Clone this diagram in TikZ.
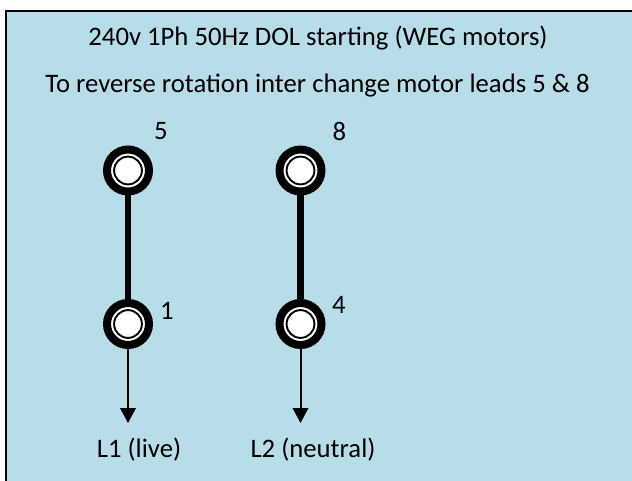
\documentclass[tikz,border=0pt]{standalone}
\usepackage{fontspec}
\setmainfont{Carlito}
\usetikzlibrary{arrows.meta, positioning}
\definecolor{panelblue}{HTML}{B7DDE8}
\begin{document}
\begin{tikzpicture}[
  x=1pt, y=-1pt,
  terminal/.style={
    circle,
    draw=black,
    line width=8pt,
    fill=white,
    minimum size=42pt,
    inner sep=0pt,
    path picture={\draw[black, line width=1.9pt] (path picture bounding box.center) circle (13.9pt);}
  },
  link/.style={line width=6.5pt},
  arrow/.style={-{Stealth[length=15pt,width=15.5pt,inset=0pt]}, line width=2pt},
  every node/.append style={font=\fontsize{26.7pt}{32pt}\selectfont}
]

% Panel
\useasboundingbox (0,0) rectangle (632,481);
\node[draw=black, line width=1.8pt, fill=panelblue, minimum width=640pt, minimum height=480pt, inner sep=0pt, anchor=north west] (panel) at (5,10) {};

% Titles
\node (title) at (318,38.5) {240v 1Ph 50Hz DOL starting (WEG motors)};
\node (note) at (317.5,85.5) {To reverse rotation inter change motor leads 5 \& 8};

% Terminals
\node[terminal] (t5) at (128,170.5) {};
\node[terminal] (t1) at (128,324) {};
\node[terminal] (t8) at (300.5,170.5) {};
\node[terminal] (t4) at (300.5,324) {};

% Links
\draw[link] (t5) -- (t1);
\draw[link] (t8) -- (t4);

% Leads
\coordinate (l1end) at (128,423);
\coordinate (l2end) at (300.5,423);
\draw[arrow] (t1) -- (l1end);
\draw[arrow] (t4) -- (l2end);

% Labels
\node (lab5) at (161,131) {5};
\node (lab8) at (339.5,131) {8};
\node (lab1) at (167,311) {1};
\node (lab4) at (339,305) {4};
\node (l1) at (139,450) {L1 (live)};
\node (l2) at (313,450) {L2 (neutral)};

\end{tikzpicture}
\end{document}
